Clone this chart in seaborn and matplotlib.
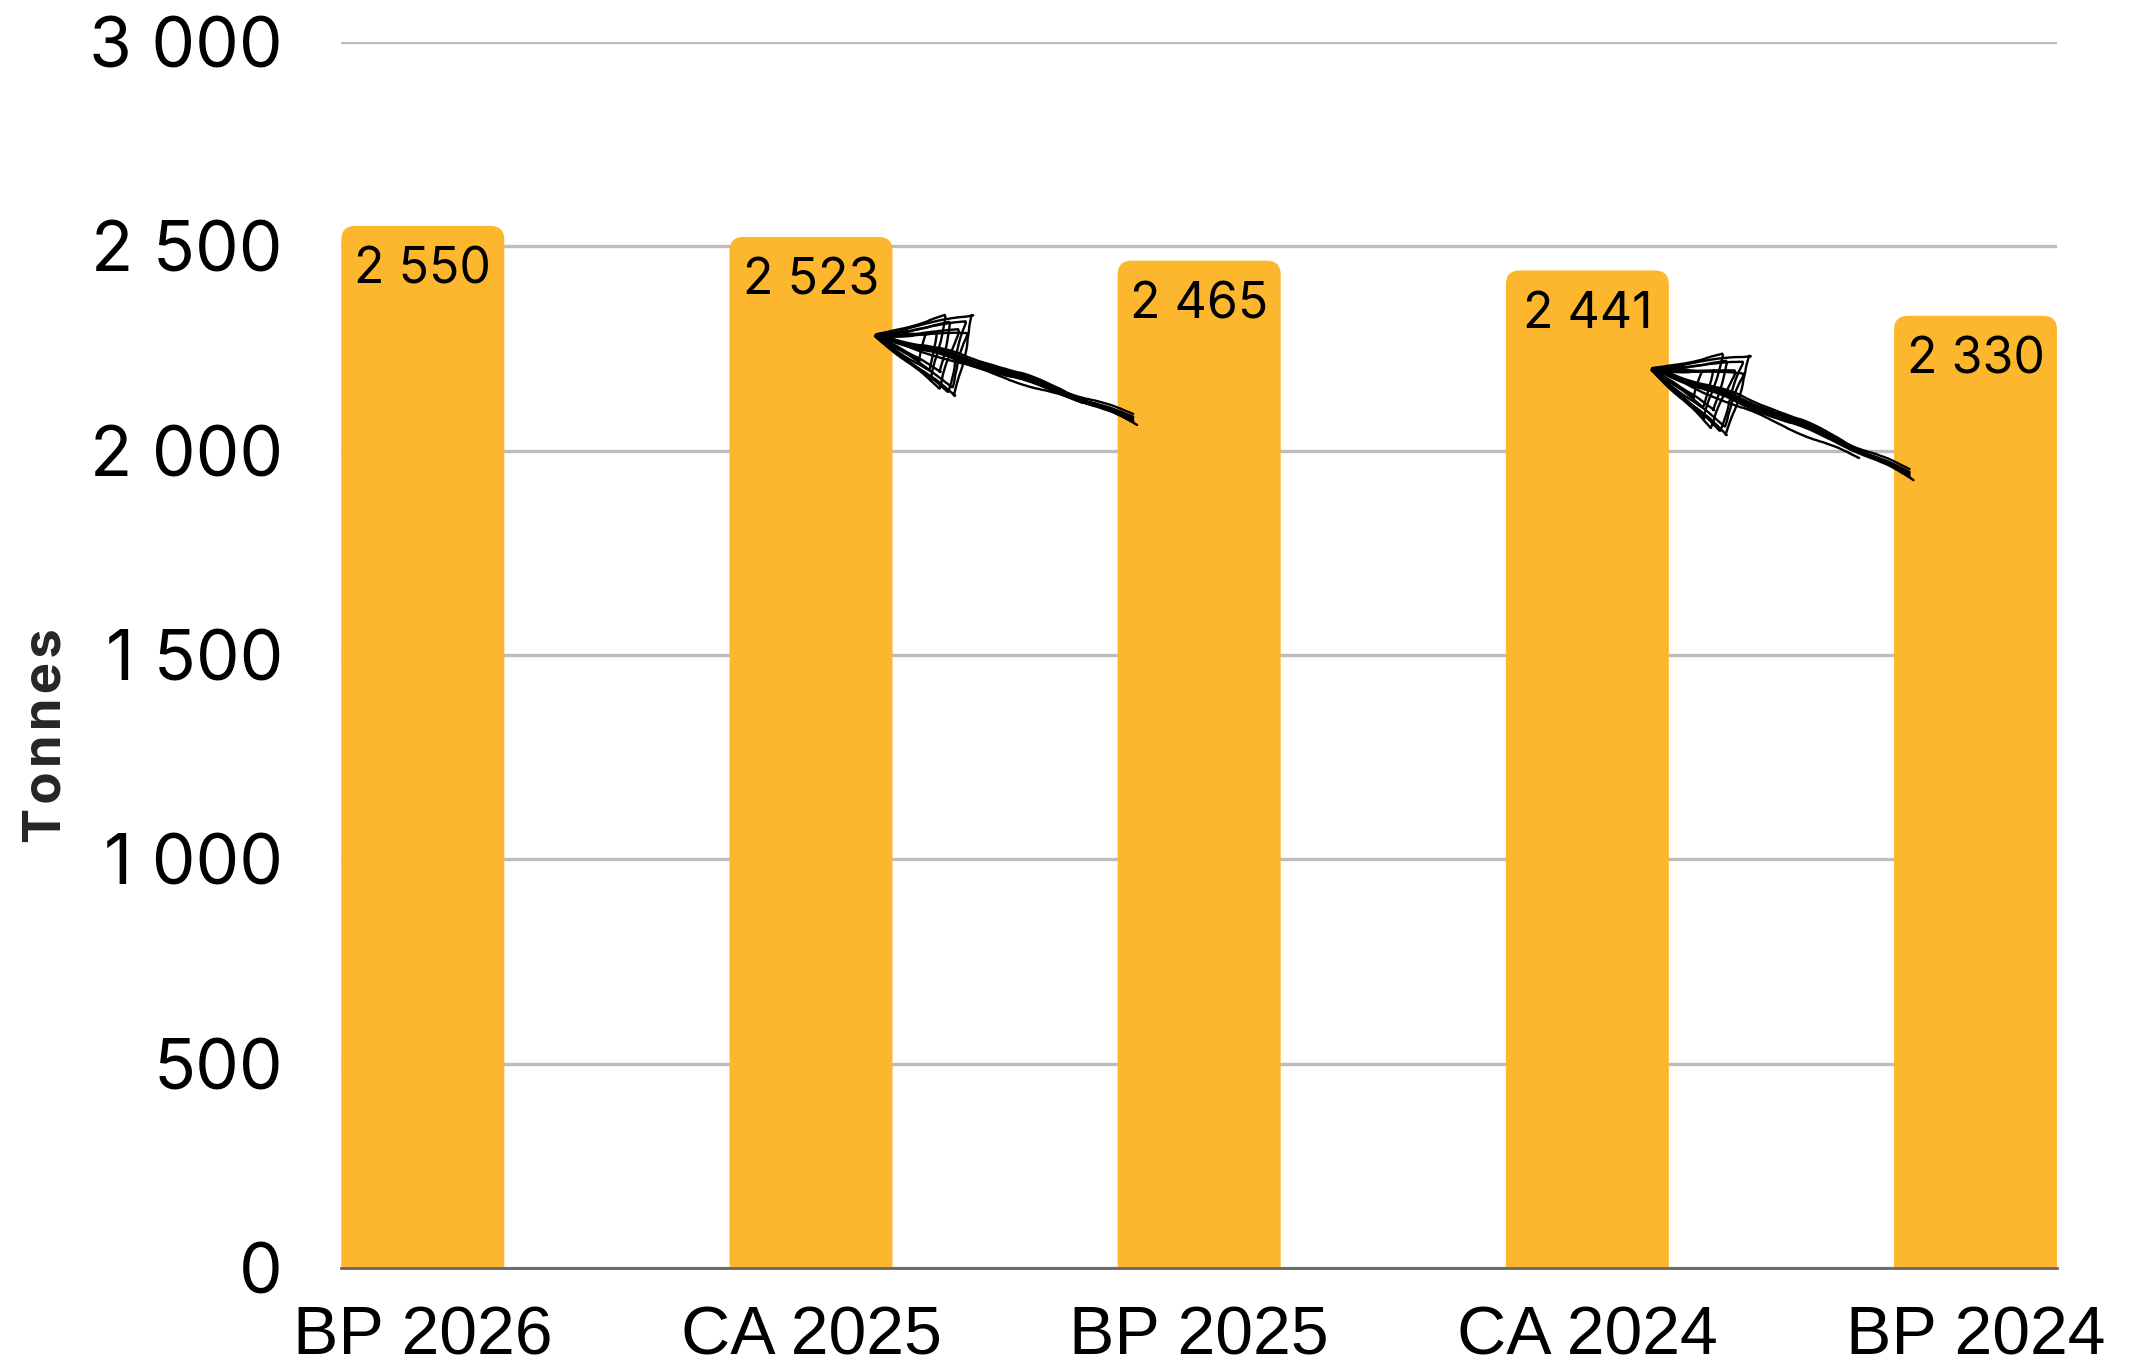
import pandas as pd
import matplotlib.pyplot as plt
import seaborn as sns
from matplotlib.patches import FancyBboxPatch

categories = ['BP 2026', 'CA 2025', 'BP 2025', 'CA 2024', 'BP 2024']
tonnes = [2550, 2523, 2465, 2441, 2330]
yticks = [0, 500, 1000, 1500, 2000, 2500, 3000]
arrow_pairs = [(1, 2), (3, 4)]  # arrow from bar b back to bar a

df = pd.DataFrame({'cat': categories, 'val': tonnes})

sns.set_style('white')
plt.rcParams['font.family'] = ['Inter', 'DejaVu Sans']

fig = plt.figure(figsize=(21.33, 13.72), dpi=100)
ax = fig.add_axes([0.160, 0.0758, 0.8044, 0.8936])

sns.barplot(data=df, x='cat', y='val', color='#FDB72F', width=0.42,
            saturation=1, ax=ax, zorder=3)
ax.set_xlim(-0.21, 4.21)
ax.set_ylim(0, 3000)

# rounded tops
fig.canvas.draw()
px_x = ax.transData.transform((1, 0))[0] - ax.transData.transform((0, 0))[0]
px_y = ax.transData.transform((0, 1))[1] - ax.transData.transform((0, 0))[1]
r = 14 / px_x
for p in list(ax.patches):
    x, w, h = p.get_x(), p.get_width(), p.get_height()
    p.set_visible(False)
    fb = FancyBboxPatch((x, -200), w, h + 200,
                        boxstyle=f'round,pad=0,rounding_size={r}',
                        mutation_aspect=px_x / px_y,
                        fc='#FDB72F', ec='none', zorder=3)
    ax.add_patch(fb)

for i, v in enumerate(tonnes):
    ax.text(i, v - 108, f'{v:,}'.replace(',', ' '), ha='center', va='center',
            fontsize=36, color='black', zorder=5)

ax.set_yticks(yticks)
ax.set_yticklabels([f'{t:,}'.replace(',', ' ') for t in yticks])
ax.tick_params(axis='y', labelsize=50, length=0, pad=42, labelcolor='black')
ax.tick_params(axis='x', labelsize=49, length=0, pad=26, labelcolor='black')
for lab in ax.get_xticklabels():
    lab.set_family('Liberation Sans')
ax.grid(axis='y', color='#bdbdbd', linewidth=2.4, zorder=0)
ax.set_axisbelow(True)
for s in ['top', 'left', 'right']:
    ax.spines[s].set_visible(False)
ax.spines['bottom'].set_color('#666666')
ax.spines['bottom'].set_linewidth(2)
ax.spines['bottom'].set_zorder(4)

ax.set_xlabel('')
ax.set_ylabel('\u200a'.join('Tonnes'), fontsize=38, fontweight='bold')
ax.yaxis.set_label_coords(-0.157, 0.434)

# sketchy hand-drawn arrows
strokes = [(0.0, 0, 0.05, 6.5, 3.0), (0.0, 15, 0.02, 6.0, 2.6),
           (-0.13, 42, 0.0, 5.5, 2.2), (0.01, -12, 0.08, 5.0, 1.8),
           (0.0, 5, 0.03, 4.2, 1.4), (0.0, -5, 0.04, 3.4, 1.0),
           (0.0, 8, 0.01, 6.2, 2.0), (0.0, -3, 0.06, 4.6, 2.4)]
for a, b in arrow_pairs:
    head = (a + 0.16, tonnes[a] - 240)
    tail = (b - 0.17, tonnes[b] - 390)
    for dx, dy, rad, hl, hw in strokes:
        an = ax.annotate('', xy=head, xytext=(tail[0] + dx, tail[1] + dy),
                         arrowprops=dict(arrowstyle=f'-|>,head_length={hl},head_width={hw}',
                                         fc='none', ec='black', lw=1.7,
                                         connectionstyle=f'arc3,rad={rad}',
                                         shrinkA=0, shrinkB=0),
                         zorder=6)
        an.arrow_patch.set_sketch_params(scale=1.2, length=120, randomness=4)

fig.savefig('out.png', dpi=100)
